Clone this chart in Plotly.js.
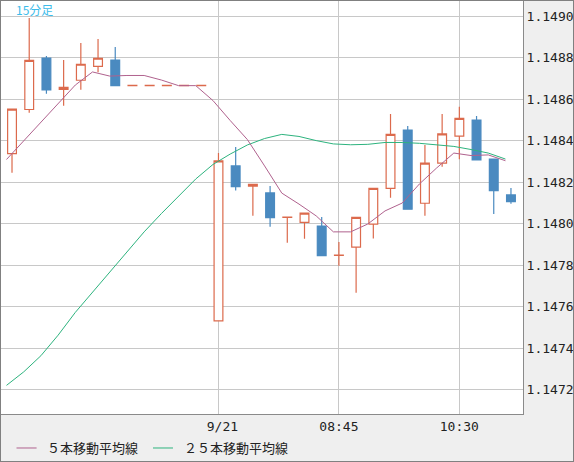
<!DOCTYPE html>
<html>
<head>
<meta charset="utf-8">
<script src="https://cdn.plot.ly/plotly-3.0.1.min.js"></script>
<style>
  html, body { margin: 0; padding: 0; background: #efefef; }
  #myGraph { width: 574px; height: 462px; box-sizing: border-box; border: 1px solid #808080; }
</style>
</head>
<body>
<div id="myGraph"></div>
<script>
// 15分足, 30本
let open = [
    1.148338, 1.148551, 1.148799, 1.148648, 1.148692, 1.148759, 1.148789,
    1.148666, 1.148666, 1.148666, 1.148666, 1.148666,
    1.147532, 1.148279, 1.148181, 1.148149, 1.148031, 1.148007, 1.147989,
    1.147848, 1.147887, 1.147998, 1.148171, 1.148452, 1.148099, 1.148292,
    1.148423, 1.148500, 1.148312, 1.148139
];
let high = [
    1.148553, 1.148992, 1.148809, 1.148789, 1.148871, 1.148891, 1.148852,
    1.148667, 1.148667, 1.148667, 1.148667, 1.148667,
    1.148341, 1.148370, 1.148190, 1.148182, 1.148032, 1.148051, 1.148033,
    1.147912, 1.148031, 1.148171, 1.148529, 1.148471, 1.148380, 1.148529,
    1.148564, 1.148520, 1.148312, 1.148173
];
let low = [
    1.148246, 1.148535, 1.148627, 1.148569, 1.148646, 1.148730, 1.148666,
    1.148666, 1.148666, 1.148666, 1.148666, 1.148666,
    1.147532, 1.148160, 1.148039, 1.147986, 1.147909, 1.147928, 1.147846,
    1.147798, 1.147668, 1.147929, 1.148126, 1.148070, 1.148039, 1.148275,
    1.148311, 1.148308, 1.148047, 1.148097
];
let close = [
    1.148553, 1.148788, 1.148646, 1.148658, 1.148769, 1.148798, 1.148666,
    1.148667, 1.148667, 1.148667, 1.148667, 1.148667,
    1.148303, 1.148179, 1.148190, 1.148030, 1.148032, 1.148051, 1.147846,
    1.147849, 1.148031, 1.148171, 1.148431, 1.148070, 1.148292, 1.148433,
    1.148508, 1.148308, 1.148160, 1.148107
];

let ma5 = [
    1.148310, 1.148401, 1.148492, 1.148583, 1.148669, 1.148732, 1.148712,
    1.148715, 1.148715, 1.148693, 1.148666, 1.148666,
    1.148594, 1.148498, 1.148406, 1.148279, 1.148148, 1.148095, 1.148038,
    1.147961, 1.147961, 1.147999, 1.148062, 1.148100, 1.148192, 1.148269,
    1.148341, 1.148329, 1.148332, 1.148304
];
let ma25 = [
    1.147221, 1.147286, 1.147364, 1.147463, 1.147573, 1.147671, 1.147768,
    1.147866, 1.147961, 1.148049, 1.148132, 1.148216,
    1.148286, 1.148336, 1.148380, 1.148411, 1.148431, 1.148421, 1.148401,
    1.148385, 1.148381, 1.148383, 1.148392, 1.148392, 1.148388, 1.148382,
    1.148373, 1.148358, 1.148341, 1.148312
];

let tickPos = [12, 19, 26];
let tickText = ['\u00a09/21', '08:45', '10:30'];
let yTicks = [1.1472, 1.1474, 1.1476, 1.1478, 1.1480, 1.1482, 1.1484, 1.1486, 1.1488, 1.1490];

let idx = open.map((v, i) => i);
let maX = idx.map(i => i - 0.32);

let candles = {
    type: 'candlestick',
    x: idx,
    open: open,
    high: high,
    low: low,
    close: close,
    whiskerwidth: 0,
    increasing: { line: { color: '#dc6a4c', width: 1.2 }, fillcolor: '#ffffff' },
    decreasing: { line: { color: '#4a8ac0', width: 1.2 }, fillcolor: '#4a8ac0' },
    hoverinfo: 'skip',
    showlegend: false
};

let line5 = {
    type: 'scatter',
    mode: 'lines',
    name: '５本移動平均線',
    x: maX,
    y: ma5,
    line: { color: '#b0628e', width: 1 },
    hoverinfo: 'skip',
    showlegend: false
};

let line25 = {
    type: 'scatter',
    mode: 'lines',
    name: '２５本移動平均線',
    x: maX,
    y: ma25,
    line: { color: '#2db37e', width: 1 },
    hoverinfo: 'skip',
    showlegend: false
};

let data = [line25, line5, candles];

let legendFont = { family: 'Noto Sans CJK JP', size: 13, color: '#222' };

let layout = {
    width: 572,
    height: 460,
    margin: { l: 0, r: 50, t: 0, b: 47 },
    paper_bgcolor: '#efefef',
    plot_bgcolor: '#ffffff',
    boxgap: 0.27,
    showlegend: false,
    xaxis: {
        range: [-0.64, 29.7],
        tickvals: tickPos,
        ticktext: tickText,
        showgrid: true,
        gridcolor: '#c8c8c8',
        zeroline: false,
        showline: true,
        mirror: true,
        linecolor: '#8a8a8a',
        linewidth: 1,
        ticks: '',
        rangeslider: { visible: false },
        tickfont: { family: 'DejaVu Sans Mono', size: 13, color: '#222' }
    },
    yaxis: {
        side: 'right',
        range: [1.147083, 1.149074],
        tickvals: yTicks,
        ticktext: yTicks.map(v => v.toFixed(4)),
        showgrid: true,
        gridcolor: '#c8c8c8',
        zeroline: false,
        showline: true,
        mirror: true,
        linecolor: '#8a8a8a',
        linewidth: 1,
        ticks: '',
        tickfont: { family: 'DejaVu Sans Mono', size: 13, color: '#222' }
    },
    annotations: [
        {
            xref: 'paper', yref: 'paper', x: 0.025, y: 0.979,
            xanchor: 'left', yanchor: 'middle', showarrow: false,
            text: '15分足',
            font: { family: 'Noto Sans CJK JP', size: 12, color: '#3cbcea' }
        },
        {
            xref: 'paper', yref: 'paper', x: 0.0843, y: -0.0823,
            xanchor: 'left', yanchor: 'middle', showarrow: false,
            text: '５本移動平均線', font: legendFont
        },
        {
            xref: 'paper', yref: 'paper', x: 0.3467, y: -0.0823,
            xanchor: 'left', yanchor: 'middle', showarrow: false,
            text: '２５本移動平均線', font: legendFont
        }
    ],
    shapes: [
        {
            type: 'line', xref: 'paper', yref: 'paper',
            x0: 0.0297, x1: 0.0682, y0: -0.0823, y1: -0.0823,
            line: { color: '#b0628e', width: 1 }
        },
        {
            type: 'line', xref: 'paper', yref: 'paper',
            x0: 0.2912, x1: 0.3295, y0: -0.0823, y1: -0.0823,
            line: { color: '#2db37e', width: 1 }
        }
    ]
};

Plotly.newPlot('myGraph', data, layout, { displayModeBar: false, staticPlot: true });
</script>
</body>
</html>
